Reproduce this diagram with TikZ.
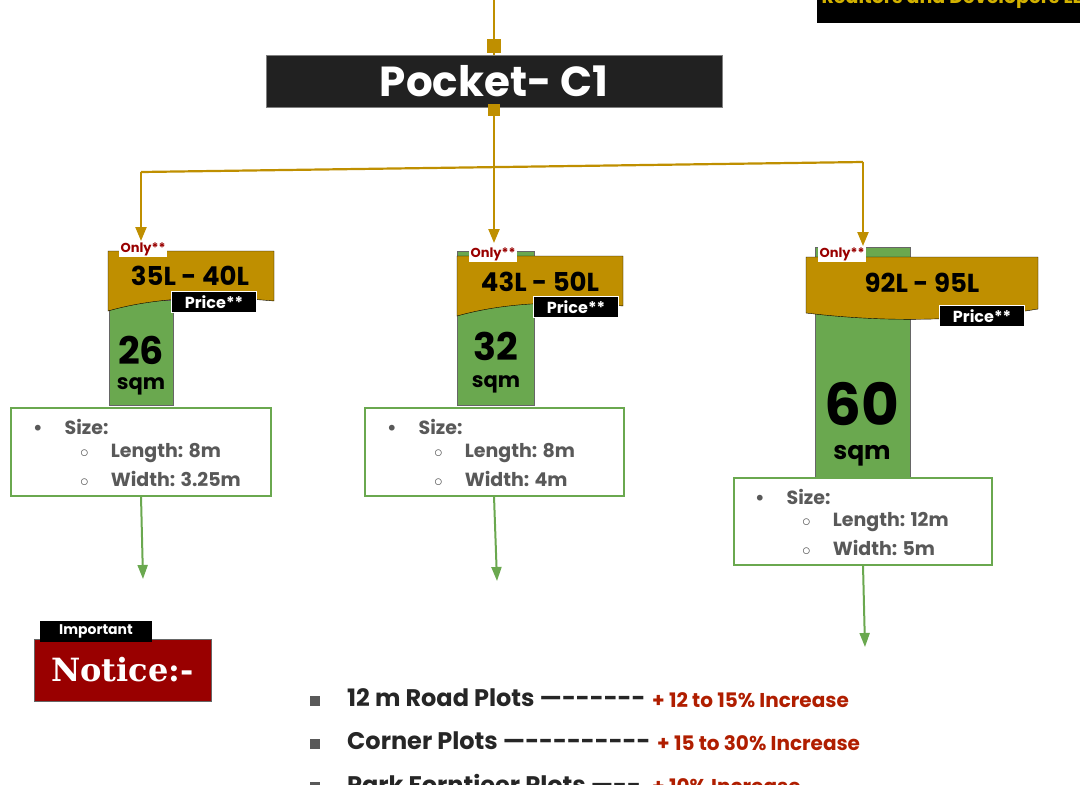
\documentclass[tikz,border=0pt]{standalone}
\usepackage{fontspec}
\setmainfont{Poppins}
\newfontfamily\serifb{DejaVu Serif}
\usetikzlibrary{arrows.meta}
\definecolor{gold}{HTML}{BF8F00}
\definecolor{grn}{HTML}{6AA84F}
\definecolor{dred}{HTML}{990000}
\definecolor{txtg}{HTML}{595959}
\definecolor{incr}{HTML}{B01E00}
\tikzset{
  conn/.style={gold,line width=2.2pt},
  garrow/.style={grn,line width=2pt,-{Triangle[width=10pt,length=14pt]}},
  goldarrow/.style={conn,-{Triangle[width=11pt,length=14pt]}},
  onlytag/.style={fill=white,text=dred,font=\bfseries\fontsize{13}{13}\selectfont,inner sep=1.5pt},
  pricetag/.style={fill=black,draw=white,text=white,font=\bfseries\fontsize{16}{16}\selectfont,inner sep=2pt,minimum height=21pt},
  greenbox/.style={fill=grn,draw=black!60,line width=0.5pt},
  infobox/.style={draw=grn,line width=1.6pt,fill=white},
  info/.style={text=txtg,font=\bfseries\fontsize{19}{19}\selectfont,anchor=west,inner sep=0pt},
  big/.style={font=\bfseries\fontsize{26}{26}\selectfont},
}
\begin{document}
\begin{tikzpicture}[x=1pt,y=-1pt]
\useasboundingbox (0,0) rectangle (1080,785);
\begin{scope}
\clip (817,0) rectangle (1080,23);
\fill[black] (817,0) rectangle (1080,23);
\node[text=gold!70!yellow,font=\bfseries\fontsize{19}{19}\selectfont,anchor=west] (brand) at (818,-1) {Realtors and Developers LLP};
\end{scope}
\node[fill=black!87,draw=black!50,minimum width=456pt,minimum height=52pt,text=white,font=\bfseries\fontsize{42}{42}\selectfont] (title) at (494,81) {Pocket- C1};
\coordinate (top) at (494,0);
\node[fill=gold,minimum size=14pt,inner sep=0pt] (sq1) at (494,46) {};
\node[fill=gold,minimum size=12pt,inner sep=0pt] (sq2) at (494,110) {};
\draw[conn] (top) -- (sq1);
\draw[conn] (sq1) -- (title.north);
\coordinate (j) at (494,166);
\coordinate (hl) at (141,172);
\coordinate (hr) at (863,162);
\draw[conn] (sq2) -- (j);
\draw[conn] (hl) -- (hr);
\coordinate (a1) at (141,241);
\coordinate (a2) at (494,243);
\coordinate (a3) at (863,246);
\draw[goldarrow] (hl) -- (a1);
\draw[goldarrow] (j) -- (a2);
\draw[goldarrow] (hr) -- (a3);

% ---- left
\draw[greenbox] (109,300) rectangle (173,405);
\node[font=\bfseries\fontsize{38}{38}\selectfont] (n1) at (141,350) {26};
\node[font=\bfseries\fontsize{21}{21}\selectfont] (s1) at (141,386) {sqm};
\draw[fill=gold,draw=black] (108,251) -- (274,251) -- (274,301) .. controls (220,296) and (160,296) .. (108,311) -- cycle;
\node[big] (p1) at (190,276) {35L - 40L};
\node[onlytag] (o1) at (143,249) {Only**};
\node[pricetag,minimum width=85pt] (pr1) at (214,302) {Price**};
\draw[infobox] (11,408) rectangle (271,496);
\node[info] (b1) at (33,427) {\textbullet\hspace{22pt}Size:};
\node[info] (l1) at (80,453) {$\circ$\hspace{22pt}Length: 8m};
\node[info] (w1) at (80,479) {$\circ$\hspace{22pt}Width: 3.25m};
\coordinate (e1) at (143,579);
\draw[garrow] (141,496) -- (e1);

% ---- middle
\draw[greenbox] (457,251) rectangle (534,405);
\draw[fill=gold,draw=black] (457,256) -- (623,256) -- (623,306) .. controls (570,301) and (510,301) .. (457,316) -- cycle;
\node[font=\bfseries\fontsize{38}{38}\selectfont] (n2) at (496,346) {32};
\node[font=\bfseries\fontsize{21}{21}\selectfont] (s2) at (496,384) {sqm};
\node[big] (p2) at (540,282) {43L - 50L};
\node[onlytag] (o2) at (493,254) {Only**};
\node[pricetag,minimum width=85pt] (pr2) at (576,307) {Price**};
\draw[infobox] (365,408) rectangle (624,496);
\node[info] (b2) at (387,427) {\textbullet\hspace{22pt}Size:};
\node[info] (l2) at (434,453) {$\circ$\hspace{22pt}Length: 8m};
\node[info] (w2) at (434,479) {$\circ$\hspace{22pt}Width: 4m};
\coordinate (e2) at (497,581);
\draw[garrow] (494,496) -- (e2);

% ---- right
\draw[greenbox] (815,247) rectangle (910,478);
\draw[fill=gold,draw=black] (806,257) -- (1038,257) -- (1038,309) .. controls (960,322) and (880,322) .. (806,313) -- cycle;
\node[font=\bfseries\fontsize{58}{58}\selectfont] (n3) at (862,404) {60};
\node[font=\bfseries\fontsize{25}{25}\selectfont] (s3) at (862,456) {sqm};
\node[big] (p3) at (922,283) {92L - 95L};
\node[onlytag] (o3) at (842,254) {Only**};
\node[pricetag,minimum width=85pt] (pr3) at (982,316) {Price**};
\draw[infobox] (734,478) rectangle (992,565);
\node[info] (b3) at (755,497) {\textbullet\hspace{22pt}Size:};
\node[info] (l3) at (802,522) {$\circ$\hspace{22pt}Length: 12m};
\node[info] (w3) at (802,548) {$\circ$\hspace{22pt}Width: 5m};
\coordinate (e3) at (865,647);
\draw[garrow] (863,565) -- (e3);

% ---- notice
\node[fill=dred,draw=black!60,minimum width=177pt,minimum height=62pt,text=white,font=\serifb\bfseries\fontsize{32}{32}\selectfont] (notice) at (122.5,670) {Notice:-};
\node[fill=black,text=white,font=\bfseries\fontsize{14}{14}\selectfont,minimum width=112pt,minimum height=21pt,inner sep=0pt] (imp) at (96,631) {Important};

% ---- list
\tikzset{li/.style={anchor=west,inner sep=0pt,font=\bfseries\fontsize{24}{24}\selectfont,text=black!85},
 lr/.style={anchor=west,inner sep=0pt,font=\bfseries\fontsize{20}{20}\selectfont,text=incr}}
\node[fill=black!65,minimum size=10pt,inner sep=0pt] (q1) at (315,701) {};
\node[fill=black!65,minimum size=10pt,inner sep=0pt] (q2) at (315,744) {};
\node[fill=black!65,minimum size=10pt,inner sep=0pt] (q3) at (315,787) {};
\node[li] (t1) at (347,698) {12 m Road Plots \textemdash-{}-{}-{}-{}-{}-};
\node[lr] (r1) at (652,700) {+ 12 to 15\% Increase};
\node[li] (t2) at (347,741) {Corner Plots \textemdash-{}-{}-{}-{}-{}-{}-{}-{}-};
\node[lr] (r2) at (657,743) {+ 15 to 30\% Increase};
\node[li] (t3) at (347,784) {Park Forntieer Plots \textemdash-{}-};
\node[lr] (r3) at (652,786) {+ 10\% Increase};
\end{tikzpicture}
\end{document}
